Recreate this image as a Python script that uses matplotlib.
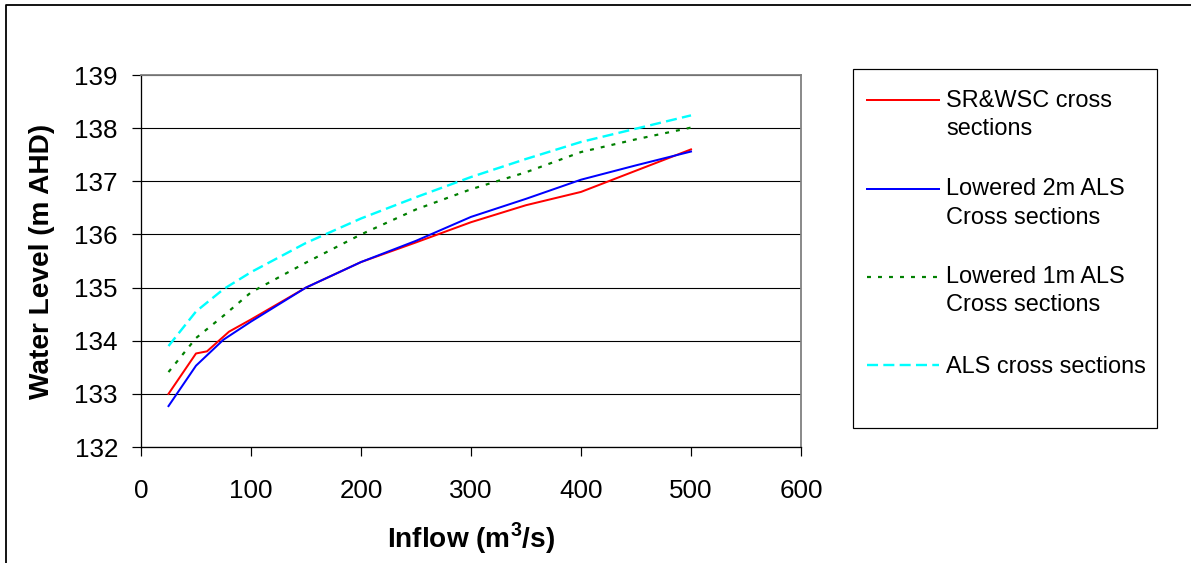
"""Water level vs inflow for four cross-section sets."""
import matplotlib
matplotlib.use('Agg')
import matplotlib.pyplot as plt
from matplotlib.lines import Line2D
from matplotlib.patches import Rectangle

plt.rcParams['font.family'] = ['Liberation Sans', 'DejaVu Sans']
plt.rcParams['mathtext.fontset'] = 'custom'
plt.rcParams['mathtext.rm'] = 'Liberation Sans'
plt.rcParams['mathtext.bf'] = 'Liberation Sans:bold'

# data
inflow_srwsc = [25, 50, 60, 80, 100, 150, 200, 250, 300, 350, 400, 450, 500]
level_srwsc = [133.0, 133.76, 133.8, 134.17, 134.4, 135.0, 135.48, 135.85, 136.23, 136.55, 136.8, 137.2, 137.6]
inflow = [25, 50, 75, 100, 150, 200, 250, 300, 350, 400, 450, 500]
level_low2m = [132.77, 133.53, 134.02, 134.36, 135.0, 135.48, 135.88, 136.33, 136.67, 137.03, 137.3, 137.56]
level_low1m = [133.41, 134.05, 134.47, 134.91, 135.47, 136.0, 136.47, 136.85, 137.17, 137.55, 137.79, 138.01]
level_als = [133.9, 134.55, 134.97, 135.29, 135.84, 136.3, 136.7, 137.08, 137.42, 137.74, 137.99, 138.24]
labels = [['SR&WSC cross', 'sections'], ['Lowered 2m ALS', 'Cross sections'],
          ['Lowered 1m ALS', 'Cross sections'], ['ALS cross sections']]
xticks = [0, 100, 200, 300, 400, 500, 600]
yticks = [132, 133, 134, 135, 136, 137, 138, 139]

W, H = 1191, 563
fig = plt.figure(figsize=(W/72, H/72), dpi=72)
fx = lambda x: x/W
fy = lambda y: 1-y/H

styles = [dict(color='#ff0000', lw=2, ls='-'),
          dict(color='#0000ff', lw=2, ls='-'),
          dict(color='#008000', lw=2.2, ls=(0, (1.8, 3.2))),
          dict(color='#00ffff', lw=2.4, ls=(0, (4.6, 2.2)))]

ax = fig.add_axes([fx(141), fy(447), (801-141)/W, (447-75)/H])
series = [(inflow_srwsc, level_srwsc), (inflow, level_low2m), (inflow, level_low1m), (inflow, level_als)]
for (xs, ys), st in zip(series, styles):
    ax.plot(xs, ys, **st)

ax.set_xlim(0, 600); ax.set_ylim(132, 139)
ax.set_xticks(xticks); ax.set_yticks(yticks)
ax.grid(axis='y', color='black', lw=1.1); ax.set_axisbelow(True)
for s in ['top', 'right']: ax.spines[s].set_color('#808080'); ax.spines[s].set_linewidth(1.8)
for s in ['left', 'bottom']: ax.spines[s].set_color('black'); ax.spines[s].set_linewidth(1.3)
ax.tick_params(axis='both', direction='out', length=9, width=1.2, labelsize=26)
ax.tick_params(axis='x', pad=23); ax.tick_params(axis='y', pad=14)
ax.set_xlabel(r'Inflow (m$^{\mathbf{3}}$/s)', fontsize=28, fontweight='bold', labelpad=17)
ax.set_ylabel('Water Level (m AHD)', fontsize=28, fontweight='bold', labelpad=19)

# legend box drawn by hand so handles line up with first text line
fig.add_artist(Rectangle((fx(853), fy(428)), (1157-853)/W, (428-69)/H, transform=fig.transFigure,
                         fill=False, ec='black', lw=1.2))
handle_y = [100, 189.3, 276.7, 365]
base_y = [106.7, 195, 282.7, 373.3]
for st, hy, by, lab in zip(styles, handle_y, base_y, labels):
    fig.add_artist(Line2D([fx(867), fx(939)], [fy(hy), fy(hy)], transform=fig.transFigure, **st))
    for i, line in enumerate(lab):
        fig.text(fx(946), fy(by + i*28.5), line, fontsize=23.5, va='baseline', ha='left')

# outer chart border (left and top only visible)
fig.add_artist(Line2D([fx(6), fx(6), fx(W)], [0, fy(4.5), fy(4.5)], transform=fig.transFigure,
                      color='black', lw=1.8))

fig.savefig('out.png', dpi=72)
